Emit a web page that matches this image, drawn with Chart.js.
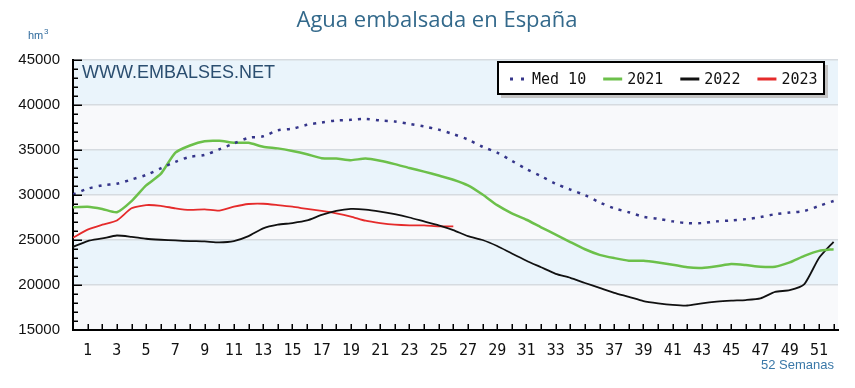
<!DOCTYPE html>
<html>
<head>
<meta charset="utf-8">
<script src="https://cdn.jsdelivr.net/npm/chart.js@4.4.1/dist/chart.umd.min.js"></script>
<style>
  html, body { margin: 0; padding: 0; background: #fff; }
  #canva1 { display: block; }
</style>
</head>
<body>
<canvas id="canva1" width="855" height="388"></canvas>
<script>
// semanas (posicion en el eje x)
var semanas = [0, 1, 2, 3, 4, 5, 6, 7, 8, 9, 10, 11, 12, 13, 14, 15, 16, 17, 18, 19, 20,
  21, 22, 23, 24, 25, 26, 27, 28, 29, 30, 31, 32, 33, 34, 35, 36, 37, 38, 39, 40,
  41, 42, 43, 44, 45, 46, 47, 48, 49, 50, 51, 52]

var etiquetasSemana = [1, 3, 5, 7, 9, 11, 13, 15, 17, 19, 21, 23, 25, 27, 29, 31, 33, 35, 37, 39, 41, 43, 45, 47, 49, 51]
var etiquetasY = [15000, 20000, 25000, 30000, 35000, 40000, 45000]

var med10 = [30050, 30700, 31070, 31250, 31720, 32230, 32960, 33690, 34240, 34450, 35070,
  35730, 36350, 36520, 37180, 37370, 37800, 38060, 38280, 38350, 38460, 38280, 38170,
  37910, 37620, 37260, 36760, 36160, 35360, 34710, 33800, 32890, 32090, 31250, 30600,
  29980, 29180, 28520, 28080, 27580, 27360, 27070, 26880, 26880, 27070, 27170, 27320,
  27540, 27870, 28050, 28230, 28780, 29330]

var a2021 = [28630, 28700, 28450, 28080, 29320, 31070, 32340, 34700, 35500, 35980, 36020,
  35800, 35800, 35360, 35180, 34890, 34530, 34090, 34050, 33870, 34050, 33800, 33430,
  33000, 32600, 32160, 31700, 31070, 30050, 28880, 27970, 27250, 26410, 25610, 24770,
  23970, 23350, 22990, 22700, 22700, 22510, 22260, 21970, 21900, 22080, 22330, 22220,
  22040, 22040, 22510, 23240, 23790, 23970]

var a2022 = [24230, 24880, 25170, 25500, 25350, 25140, 25030, 24950, 24880, 24840, 24740,
  24880, 25430, 26300, 26700, 26880, 27170, 27790, 28230, 28450, 28380, 28160, 27870,
  27500, 27060, 26630, 26100, 25430, 25000, 24330, 23500, 22700, 21970, 21240, 20800,
  20220, 19680, 19130, 18690, 18220, 17970, 17790, 17720, 17970, 18150, 18260, 18330,
  18510, 19240, 19420, 20100, 23000, 24800]

var a2023 = [25245, 26150, 26700, 27170, 28520, 28880, 28800, 28520, 28340, 28410, 28270,
  28700, 29000, 29030, 28880, 28700, 28450, 28230, 27970, 27610, 27140, 26880, 26700,
  26630, 26630, 26520, 26520]

function puntos(valores) {
  var res = []
  for (var i = 0; i < valores.length; i++) {
    res.push({ x: semanas[i], y: valores[i] })
  }
  return res
}

// fondo a bandas, ticks interiores, titulos y leyenda
var decorado = {
  id: "decorado",
  beforeDraw: function(chart) {
    var ctx = chart.ctx
    var a = chart.chartArea
    var y = chart.scales.y
    for (var i = 0; i < etiquetasY.length - 1; i++) {
      var y0 = y.getPixelForValue(etiquetasY[i])
      var y1 = y.getPixelForValue(etiquetasY[i + 1])
      ctx.fillStyle = (i % 2 == 0) ? "#f8f9fb" : "#eaf4fb"
      ctx.fillRect(a.left, y1, a.right - a.left, y0 - y1)
    }
  },
  afterDraw: function(chart) {
    var ctx = chart.ctx
    var a = chart.chartArea
    var x = chart.scales.x
    var y = chart.scales.y
    ctx.save()
    ctx.strokeStyle = "#000"
    ctx.lineWidth = 1.5
    ctx.beginPath()
    for (var v = 15000; v <= 45000; v += 1000) {
      var py = Math.round(y.getPixelForValue(v)) + 0.25
      var largo = (v % 5000 == 0) ? 9 : 5
      ctx.moveTo(a.left, py)
      ctx.lineTo(a.left + largo, py)
    }
    for (var w = 1; w <= 52; w++) {
      var px = Math.round(x.getPixelForValue(w)) + 0.25
      ctx.moveTo(px, a.bottom)
      ctx.lineTo(px, a.bottom - 6)
    }
    ctx.stroke()

    // titulo
    ctx.fillStyle = "#33698b"
    ctx.font = "22px 'Open Sans'"
    ctx.textAlign = "center"
    ctx.textBaseline = "alphabetic"
    ctx.fillText("Agua embalsada en España", 437, 27)

    ctx.fillStyle = "#2f6a9c"
    ctx.textAlign = "left"
    ctx.font = "11px 'Liberation Sans'"
    ctx.fillText("hm", 28, 39)
    ctx.font = "8px 'Liberation Sans'"
    ctx.fillText("3", 44, 34)

    ctx.fillStyle = "#2b4e70"
    ctx.font = "18px 'Liberation Sans'"
    ctx.fillText("WWW.EMBALSES.NET", 82, 78)

    ctx.fillStyle = "#3a78a8"
    ctx.font = "13px 'Liberation Sans'"
    ctx.textAlign = "right"
    ctx.fillText("52 Semanas", 834, 369)

    // leyenda
    ctx.fillStyle = "#c4c4c4"
    ctx.fillRect(501, 65, 327, 33)
    ctx.fillStyle = "#fff"
    ctx.fillRect(498, 62, 326, 32)
    ctx.strokeStyle = "#000"
    ctx.lineWidth = 2
    ctx.strokeRect(498, 62, 326, 32)

    ctx.font = "15px 'DejaVu Sans Mono'"
    ctx.textAlign = "left"
    ctx.textBaseline = "middle"
    var sx = 508
    var ly = 79
    chart.data.datasets.forEach(function(ds) {
      ctx.fillStyle = ds.borderColor
      if (ds.borderDash && ds.borderDash.length) {
        ctx.fillRect(sx + 2, ly - 1.5, 3, 3)
        ctx.fillRect(sx + 13, ly - 1.5, 3, 3)
      } else {
        ctx.fillRect(sx, ly - 1.5, 19, 3)
      }
      ctx.fillStyle = "#111"
      ctx.fillText(ds.label, sx + 24, ly + 1)
      sx = sx + 24 + ctx.measureText(ds.label).width + 17
    })
    ctx.restore()
  }
}

var config = {
  type: "line",
  data: {
    datasets: [{
      label: "Med 10",
      data: puntos(med10),
      borderColor: "#35358a",
      borderWidth: 2.5,
      borderDash: [3, 6],
      pointRadius: 0,
      tension: 0.3
    }, {
      label: "2021",
      data: puntos(a2021),
      borderColor: "#6cc04a",
      borderWidth: 2.5,
      pointRadius: 0,
      tension: 0.2
    }, {
      label: "2022",
      data: puntos(a2022),
      borderColor: "#111111",
      borderWidth: 1.8,
      pointRadius: 0,
      tension: 0.2
    }, {
      label: "2023",
      data: puntos(a2023),
      borderColor: "#e52b2b",
      borderWidth: 1.8,
      pointRadius: 0,
      tension: 0.2
    }]
  },
  options: {
    responsive: false,
    animation: false,
    layout: { padding: { left: 0, right: 17, top: 60, bottom: 0 } },
    plugins: {
      legend: { display: false },
      tooltip: { enabled: false }
    },
    scales: {
      x: {
        type: "linear",
        min: 0,
        max: 52.3,
        grid: { display: false, drawTicks: false },
        border: { display: true, color: "#000", width: 2 },
        afterBuildTicks: function(scale) {
          scale.ticks = etiquetasSemana.map(function(v) { return { value: v } })
        },
        afterFit: function(scale) { scale.height = 58 },
        ticks: {
          autoSkip: false,
          maxRotation: 0,
          padding: 12,
          color: "#111",
          font: { family: "DejaVu Sans Mono", size: 15 },
          callback: function(v) { return String(v) }
        }
      },
      y: {
        min: 15000,
        max: 45000,
        afterBuildTicks: function(scale) {
          scale.ticks = etiquetasY.map(function(v) { return { value: v } })
        },
        afterFit: function(scale) { scale.width = 73 },
        grid: { color: "#d6dbe0", lineWidth: 1.5, drawTicks: false },
        border: { display: true, color: "#000", width: 2 },
        ticks: {
          padding: 13,
          color: "#111",
          font: { family: "Liberation Sans", size: 15 },
          callback: function(v) { return String(v) }
        }
      }
    }
  },
  plugins: [decorado]
}

var ctx = document.getElementById("canva1").getContext("2d")
window.chart = new Chart(ctx, config)
</script>
</body>
</html>
